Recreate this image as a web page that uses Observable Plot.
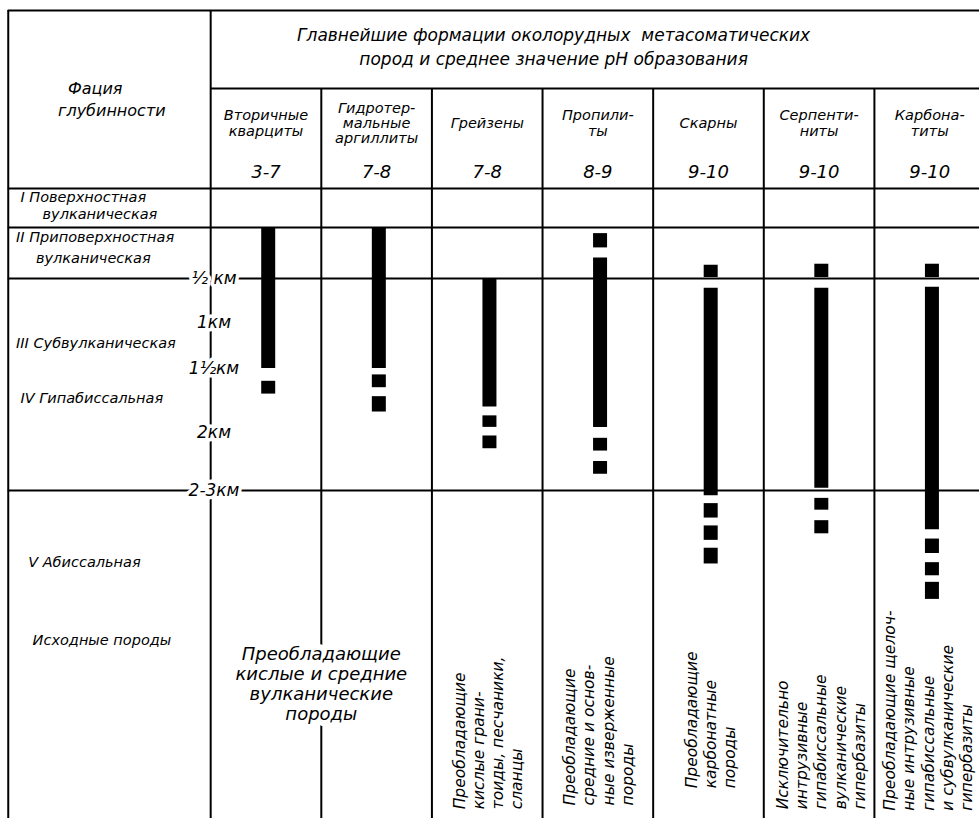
<!DOCTYPE html>
<html>
<head>
<meta charset="utf-8">
<script src="https://cdn.jsdelivr.net/npm/d3@7"></script>
<script src="https://cdn.jsdelivr.net/npm/@observablehq/plot@0.6"></script>
<style>
  html, body { margin: 0; padding: 0; background: #fff; }
  svg text { font-style: italic; }
  g[aria-label="title"] text { letter-spacing: 2.2px; }
  g[aria-label="formation-head"] text { letter-spacing: 1px; }
  g[aria-label="ph"] text { letter-spacing: 3px; }
  g[aria-label="source-span"] text { letter-spacing: 1px; }
  g[aria-label="source-col"] text { letter-spacing: 1px; }
</style>
</head>
<body>
<div id="chart"></div>
<script>
// ---------------- DATA ----------------
const titleLines = ["Главнейшие формации околорудных  метасоматических", "пород и среднее значение pH образования"];
const faciesHeader = ["Фация", "глубинности"];
const formations = ["Вторичные кварциты", "Гидротермальные аргиллиты", "Грейзены", "Пропилиты", "Скарны", "Серпентиниты", "Карбонатиты"];
const formationHeadLines = ["Вторичные\nкварциты", "Гидротер-\nмальные\nаргиллиты", "Грейзены", "Пропили-\nты", "Скарны", "Серпенти-\nниты", "Карбона-\nтиты"];
const phValues = ["3-7", "7-8", "7-8", "8-9", "9-10", "9-10", "9-10"];
const faciesLabels = ["I Поверхностная", "вулканическая", "II Приповерхностная", "вулканическая", "III Субвулканическая", "IV Гипабиссальная", "V Абиссальная", "Исходные породы"];
const depthTicksKm = [0.5, 1, 1.5, 2, 2.5];
const depthTickLabels = ["½ км", "1км", "1½км", "2км", "2-3км"];

// continuous depth interval of each formation (km)
const solidTop    = [0,   0,   0.50, 0.30, 0.61, 0.61, 0.60];
const solidBottom = [1.5, 1.5, 1.80, 1.96, 2.54, 2.48, 2.80];
// intermittent (possible) occurrence squares (km)
const patches = [
  {formation: "Вторичные кварциты", top: 1.60, bottom: 1.70},
  {formation: "Гидротермальные аргиллиты", top: 1.55, bottom: 1.65},
  {formation: "Гидротермальные аргиллиты", top: 1.72, bottom: 1.84},
  {formation: "Грейзены", top: 1.87, bottom: 1.96},
  {formation: "Грейзены", top: 2.03, bottom: 2.14},
  {formation: "Пропилиты", top: 0.06, bottom: 0.20},
  {formation: "Пропилиты", top: 2.05, bottom: 2.16},
  {formation: "Пропилиты", top: 2.25, bottom: 2.36},
  {formation: "Скарны", top: 0.37, bottom: 0.49},
  {formation: "Скарны", top: 2.60, bottom: 2.71},
  {formation: "Скарны", top: 2.77, bottom: 2.88},
  {formation: "Скарны", top: 2.94, bottom: 3.06},
  {formation: "Серпентиниты", top: 0.36, bottom: 0.49},
  {formation: "Серпентиниты", top: 2.56, bottom: 2.65},
  {formation: "Серпентиниты", top: 2.73, bottom: 2.83},
  {formation: "Карбонатиты", top: 0.36, bottom: 0.49},
  {formation: "Карбонатиты", top: 2.87, bottom: 2.98},
  {formation: "Карбонатиты", top: 3.05, bottom: 3.15},
  {formation: "Карбонатиты", top: 3.20, bottom: 3.33}
];
// source rocks
const sourceSpanText = "Преобладающие\nкислые и средние\nвулканические\nпороды";
const sourceColFormations = ["Грейзены", "Пропилиты", "Скарны", "Серпентиниты", "Карбонатиты"];
const sourceColTexts = [
  "Преобладающие\nкислые грани-\nтоиды, песчаники,\nсланцы",
  "Преобладающие\nсредние и основ-\nные изверженные\nпороды",
  "Преобладающие\nкарбонатные\nпороды",
  "Исключительно\nинтрузивные\nгипабиссальные\nвулканические\nгипербазиты",
  "Преобладающие щелоч-\nные интрузивные\nгипабиссальные\nи субвулканические\nгипербазиты"
];

// ---------------- LAYOUT (scale units) ----------------
// x: facies column spans [-1.83, 0]; formation i spans [i, i+1]
// y: header rows at 100px per unit above surface (0); depth in km below
const yAnchors = [-2.27, 0, 0.5, 1, 1.5, 2, 2.5, 5];
const yPixels  = [0, 227, 278, 322, 368, 432, 490, 818];
const tableRows = [
  {y: -2.17, x1: -1.83, x2: 7.1},
  {y: -1.39, x1: 0, x2: 7.1},
  {y: -0.39, x1: -1.83, x2: 7.1},
  {y: 0, x1: -1.83, x2: 7.1},
  {y: 0.5, x1: -1.83, x2: 7.1},
  {y: 2.5, x1: -1.83, x2: 7.1}
];
const tableCols = [
  {x: -1.83, y1: -2.17, y2: 5},
  {x: 0, y1: -2.17, y2: 5},
  {x: 1, y1: -1.39, y2: 5},
  {x: 2, y1: -1.39, y2: 5},
  {x: 3, y1: -1.39, y2: 5},
  {x: 4, y1: -1.39, y2: 5},
  {x: 5, y1: -1.39, y2: 5},
  {x: 6, y1: -1.39, y2: 5}
];
const faciesPos = [[-1.72, -0.305], [-1.52, -0.13], [-1.76, 0.10], [-1.58, 0.30], [-1.76, 1.23], [-1.72, 1.73], [-1.65, 3.05], [-1.61, 3.64]];
const faciesHeadPos = [[-1.29, -1.39], [-1.38, -1.17]];
const sourceColStart = [4.93, 4.90, 4.77, 4.93, 4.94];
const sourceColShift = [-0.02, -0.02, -0.01, -0.01, -0.04];

const col = name => formations.indexOf(name) + 0.52;
const bars = formations.map((f, i) => ({formation: f, top: solidTop[i], bottom: solidBottom[i]}));

const font = "'DejaVu Sans', sans-serif";

const chart = Plot.plot({
  width: 979,
  height: 818,
  margin: 0,
  x: {type: "linear", domain: [-1.9, 6.95], range: [0, 979], axis: null},
  y: {type: "linear", domain: yAnchors, range: yPixels, axis: null},
  style: {fontFamily: font, fontStyle: "italic", background: "#fff", color: "#000", overflow: "hidden"},
  marks: [
    // table grid
    Plot.ruleY(tableRows, {y: "y", x1: "x1", x2: "x2", stroke: "#000", strokeWidth: 2}),
    Plot.ruleX(tableCols, {x: "x", y1: "y1", y2: "y2", stroke: "#000", strokeWidth: 2}),
    // bars
    Plot.ruleX(bars, {x: d => col(d.formation), y1: "top", y2: "bottom", stroke: "#000", strokeWidth: 14}),
    Plot.ruleX(patches, {x: d => col(d.formation), y1: "top", y2: "bottom", stroke: "#000", strokeWidth: 14}),
    // title
    Plot.text([titleLines.join("\n")], {x: 3.1, y: -1.82, text: d => d, fontSize: 17, lineHeight: 1.42, fill: "#000", ariaLabel: "title"}),
    // facies header
    Plot.text(faciesHeader, {x: (d, i) => faciesHeadPos[i][0], y: (d, i) => faciesHeadPos[i][1], text: d => d, textAnchor: "start", fontSize: 16, fill: "#000"}),
    // formation headers
    Plot.text(formationHeadLines, {x: (d, i) => i + 0.5, y: -1.045, text: d => d, fontSize: 14.5, lineHeight: 1.05, fill: "#000", ariaLabel: "formation-head"}),
    Plot.text(phValues, {x: (d, i) => i + 0.5, y: -0.55, text: d => d, fontSize: 18, fill: "#000", ariaLabel: "ph"}),
    // facies labels
    Plot.text(faciesLabels, {x: (d, i) => faciesPos[i][0], y: (d, i) => faciesPos[i][1], text: d => d, textAnchor: "start", fontSize: 14.5, fill: "#000"}),
    // depth scale labels
    Plot.text(depthTicksKm, {x: 0.03, y: d => d, text: (d, i) => depthTickLabels[i], fontSize: 17, fill: "#000", stroke: "#fff", strokeWidth: 7}),
    // source rocks
    Plot.text([sourceSpanText], {x: 1, y: 3.97, text: d => d, fontSize: 18, lineHeight: 1.11, fill: "#000", stroke: "#fff", strokeWidth: 12, ariaLabel: "source-span"}),
    Plot.text(sourceColTexts, {x: (d, i) => col(sourceColFormations[i]) + sourceColShift[i], y: (d, i) => sourceColStart[i], text: d => d, rotate: -90, textAnchor: "start", fontSize: 15.5, lineHeight: 1.24, fill: "#000", ariaLabel: "source-col"})
  ]
});
document.getElementById("chart").append(chart);
</script>
</body>
</html>
